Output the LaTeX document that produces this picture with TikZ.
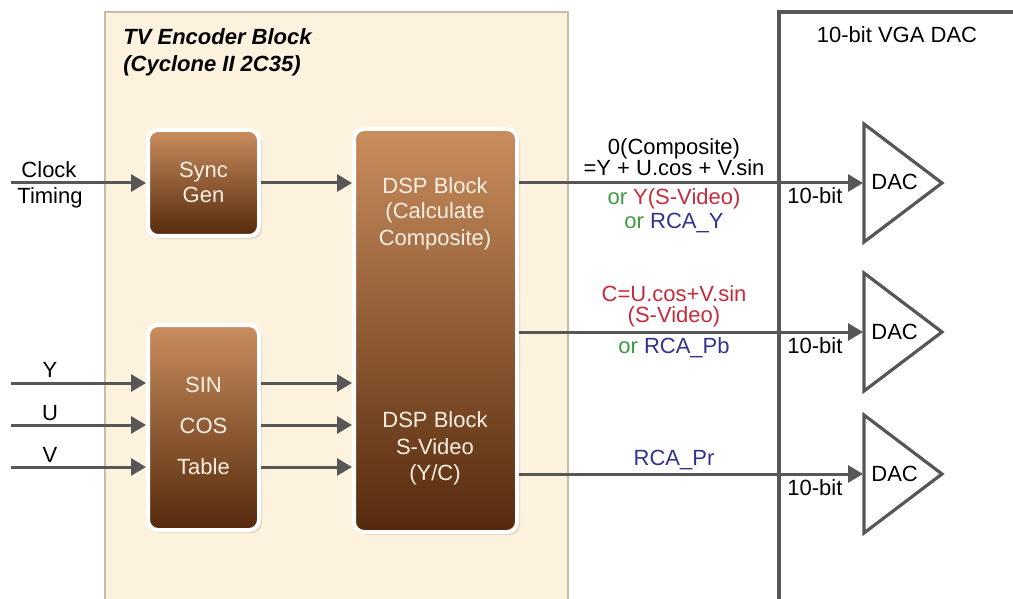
\documentclass[tikz,border=0pt]{standalone}
\usepackage{fontspec}
\setmainfont{Liberation Sans}
\usetikzlibrary{arrows.meta,shadows}
\definecolor{beige}{HTML}{FDF2DE}
\definecolor{beigeedge}{HTML}{C9BBA6}
\definecolor{lnc}{HTML}{575757}
\definecolor{brtop}{HTML}{C98D5E}
\definecolor{brbot}{HTML}{552A0C}
\definecolor{boxtxt}{HTML}{FAF0E4}
\definecolor{tgreen}{HTML}{3C9A3F}
\definecolor{tred}{HTML}{C62B3A}
\definecolor{tblue}{HTML}{33338F}
\begin{document}
\begin{tikzpicture}[x=0.5pt,y=-0.5pt,
  every node/.style={font=\fontsize{11}{13}\selectfont, inner sep=0pt},
  blk/.style={draw=white, line width=2pt, rounded corners=5pt,
    top color=brtop, bottom color=brbot,
    drop shadow={opacity=0.22, shadow xshift=1.5pt, shadow yshift=-1.5pt}},
  btxt/.style={text=boxtxt, anchor=base},
  lbl/.style={anchor=base},
  arr/.style={draw=lnc, line width=1.5pt, -{Triangle[length=7.5pt,width=8.5pt]}},
  dacs/.style={draw=lnc, line width=1.6pt, line join=miter},
  ttl/.style={anchor=base west, font=\fontsize{11}{13}\selectfont\bfseries\itshape}]
\useasboundingbox (0,0) rectangle (1013,599);
% encoder block background
\fill[beige] (105,12) rectangle (568,602);
\draw[beigeedge, line width=0.6pt] (105,602) |- (568,12) -- (568,602);
\node[ttl] (t1) at (123,45) {TV Encoder Block};
\node[ttl] (t2) at (123,72) {(Cyclone II 2C35)};
% boxes
\node[blk, minimum width=55.5pt, minimum height=53pt] (sync) at (203.5,183) {};
\node[blk, minimum width=81.5pt, minimum height=201.5pt] (dsp) at (435.5,330.5) {};
\node[blk, minimum width=55.5pt, minimum height=102.5pt] (tab) at (203.5,427.5) {};
\node[btxt] (s1) at (203.5,177) {Sync};
\node[btxt] (s2) at (203.5,203) {Gen};
\node[btxt] (da1) at (435,193) {DSP Block};
\node[btxt] (da2) at (435,219) {(Calculate};
\node[btxt] (da3) at (435,245) {Composite)};
\node[btxt] (db1) at (435,427) {DSP Block};
\node[btxt] (db2) at (435,454) {S-Video};
\node[btxt] (db3) at (435,480) {(Y/C)};
\node[btxt] (tsin) at (203.5,392) {SIN};
\node[btxt] (tcos) at (203.5,433) {COS};
\node[btxt] (ttab) at (203.5,474) {Table};
% inputs
\coordinate (clkin) at (11,183);
\coordinate (yin) at (11,383);
\coordinate (uin) at (11,425);
\coordinate (vin) at (11,467);
\draw[arr] (clkin) -- (clkin -| sync.west);
\node[lbl] (lclk) at (49,177) {Clock};
\node[lbl] (ltim) at (50,204) {Timing};
\draw[arr] (sync.east) -- (sync.east -| dsp.west);
\draw[arr] (yin) -- (yin -| tab.west);
\draw[arr] (uin) -- (uin -| tab.west);
\draw[arr] (vin) -- (vin -| tab.west);
\node[lbl] (ly) at (50,377) {Y};
\node[lbl] (lu) at (50,420) {U};
\node[lbl] (lv) at (50,462) {V};
\draw[arr] (yin -| tab.east) -- (yin -| dsp.west);
\draw[arr] (uin -| tab.east) -- (uin -| dsp.west);
\draw[arr] (vin -| tab.east) -- (vin -| dsp.west);
% VGA DAC box
\draw[lnc, line width=2pt] (779,602) |- (1016,12);
\node[lbl] (vga) at (897,43) {10-bit VGA DAC};
% DACs
\coordinate (dac1) at (863,183);
\coordinate (dac2) at (863,332);
\coordinate (dac3) at (863,474);
\draw[dacs] (864,124) -- (942,183) -- (864,242) -- cycle;
\draw[dacs] (864,273) -- (942,332) -- (864,391) -- cycle;
\draw[dacs] (864,415) -- (942,474) -- (864,533) -- cycle;
\node[anchor=base west] (dt1) at (871,190) {DAC};
\node[anchor=base west] (dt2) at (871,339) {DAC};
\node[anchor=base west] (dt3) at (871,481) {DAC};
\draw[arr] (dac1 -| dsp.east) -- (dac1);
\draw[arr] (dac2 -| dsp.east) -- (dac2);
\draw[arr] (dac3 -| dsp.east) -- (dac3);
\node[anchor=base west] (b1) at (787,204) {10-bit};
\node[anchor=base west] (b2) at (787,353) {10-bit};
\node[anchor=base west] (b3) at (787,495) {10-bit};
% signal labels
\node[lbl] (o1) at (674,155) {0(Composite)};
\node[lbl] (o2) at (674,176) {=Y + U.cos + V.sin};
\node[lbl] (o3) at (674,205) {\textcolor{tgreen}{or} \textcolor{tred}{Y(S-Video)}};
\node[lbl] (o4) at (674,228) {\textcolor{tgreen}{or} \textcolor{tblue}{RCA\_Y}};
\node[lbl, text=tred] (c1) at (674,301) {C=U.cos+V.sin};
\node[lbl, text=tred] (c2) at (674,322) {(S-Video)};
\node[lbl] (c3) at (674,353) {\textcolor{tgreen}{or} \textcolor{tblue}{RCA\_Pb}};
\node[lbl, text=tblue] (p1) at (674,465) {RCA\_Pr};
\end{tikzpicture}
\end{document}
